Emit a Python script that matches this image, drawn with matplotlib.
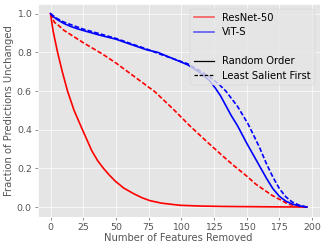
import matplotlib
matplotlib.use("Agg")
import matplotlib.pyplot as plt
from matplotlib.lines import Line2D

plt.style.use("ggplot")

# ResNet-50, random order
resnet_rand_x = [0, 2, 5.4, 9, 13, 18, 24.4, 31.5, 36, 40.5, 45, 49.5, 56, 63.6, 70, 76,
                 85, 99, 115, 132, 150, 170, 185, 196]
resnet_rand_y = [1.0, 0.91, 0.8, 0.7, 0.6, 0.5, 0.4, 0.292, 0.24, 0.2, 0.165, 0.134, 0.098,
                 0.069, 0.048, 0.033, 0.02, 0.009, 0.005, 0.003, 0.002, 0.001, 0.0005, 0.0]

# ResNet-50, least salient first
resnet_lsf_x = [0, 3, 6, 10, 25, 40, 50, 61, 70, 80, 94, 106.5, 120, 132, 140, 150, 157,
                169, 182, 190, 196]
resnet_lsf_y = [1.0, 0.955, 0.94, 0.915, 0.85, 0.79, 0.745, 0.69, 0.645, 0.595, 0.505, 0.42,
                0.335, 0.262, 0.215, 0.16, 0.118, 0.062, 0.014, 0.004, 0.0]

# ViT-S, random order
vit_rand_x = [0, 2, 5, 10, 15, 20, 25, 37, 50, 61, 74, 82, 98, 105, 113, 118, 122, 126, 130,
              134, 138, 143, 150, 155, 160, 165, 170, 175, 180, 185, 190, 196]
vit_rand_y = [1.0, 0.985, 0.97, 0.95, 0.935, 0.923, 0.913, 0.89, 0.868, 0.842, 0.812, 0.8,
              0.755, 0.735, 0.7, 0.675, 0.65, 0.615, 0.575, 0.525, 0.475, 0.42, 0.33, 0.27,
              0.21, 0.15, 0.095, 0.055, 0.03, 0.015, 0.006, 0.0]

# ViT-S, least salient first
vit_lsf_x = [0, 5, 10, 25, 50, 61, 74, 86, 98, 105, 113, 122, 128, 134, 143, 151, 155, 160,
             165, 170, 175, 180, 185, 190, 196]
vit_lsf_y = [1.0, 0.975, 0.957, 0.92, 0.872, 0.846, 0.816, 0.785, 0.757, 0.74, 0.71, 0.67,
             0.64, 0.6, 0.52, 0.43, 0.375, 0.305, 0.225, 0.155, 0.095, 0.052, 0.025, 0.01, 0.0]

model_labels = ["ResNet-50", "ViT-S"]
order_labels = ["Random Order", "Least Salient First"]
xlabel = "Number of Features Removed"
ylabel = "Fraction of Predictions Unchanged"

fig = plt.figure(figsize=(326 / 60, 249 / 60), dpi=60)
ax = fig.add_axes([0.1156, 0.1297, 0.8651, 0.8543])

lw = 2.0
dash = (2.8, 1.3)
ax.plot(resnet_rand_x, resnet_rand_y, color="red", linestyle="-", lw=lw)
ax.plot(resnet_lsf_x, resnet_lsf_y, color="red", linestyle="--", dashes=dash, lw=lw)
ax.plot(vit_rand_x, vit_rand_y, color="blue", linestyle="-", lw=lw)
ax.plot(vit_lsf_x, vit_lsf_y, color="blue", linestyle="--", dashes=dash, lw=lw)

ax.set_xlabel(xlabel, fontsize=12, labelpad=2)
ax.set_ylabel(ylabel, fontsize=12, labelpad=4)
ax.set_xticks([0, 25, 50, 75, 100, 125, 150, 175, 200])
ax.set_yticks([0.0, 0.2, 0.4, 0.6, 0.8, 1.0])
ax.tick_params(labelsize=11.3)

handles = [
    Line2D([], [], color="red", alpha=0.6, lw=lw, label=model_labels[0]),
    Line2D([], [], color="blue", alpha=0.6, lw=lw, label=model_labels[1]),
    Line2D([], [], color="none", label="ViT-S"),
    Line2D([], [], color="black", linestyle="-", lw=1.5, label=order_labels[0]),
    Line2D([], [], color="black", linestyle="--", dashes=(2.8, 1.3), lw=1.5,
           label=order_labels[1]),
]
leg = ax.legend(handles=handles, loc="upper right", fontsize=12, labelspacing=0.45)
leg.get_texts()[2].set_alpha(0)

fig.savefig("out.png", dpi=60)
